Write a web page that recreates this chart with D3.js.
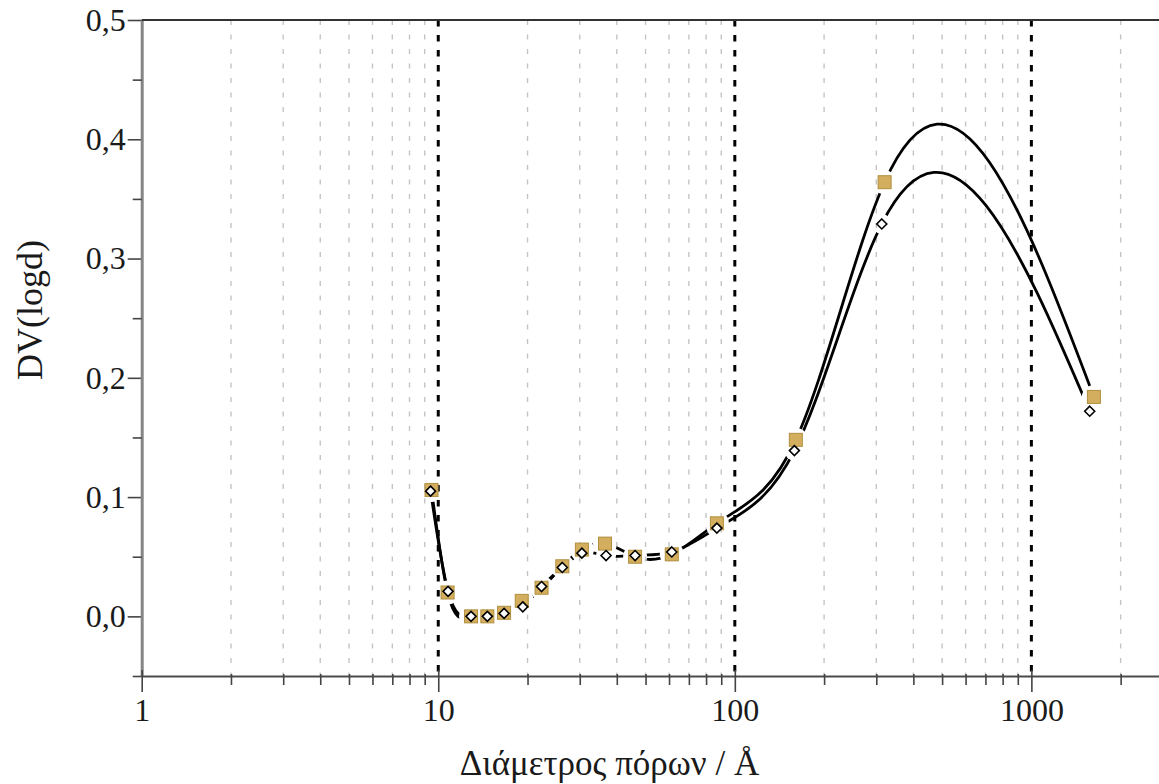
<!DOCTYPE html>
<html>
<head>
<meta charset="utf-8">
<script src="https://cdn.jsdelivr.net/npm/d3@7"></script>
<style>
  html, body { margin: 0; padding: 0; background: #fff; }
  svg { display: block; }
  svg text { font-family: "Liberation Serif", "Tinos", "Times New Roman", "DejaVu Serif", serif !important; fill: #1a1a1a; }
</style>
</head>
<body>
<svg id="chart" width="1159" height="784"></svg>
<script>
// Pore diameter (Å) and DV(logd) for the two samples
const squareDiameter  = [9.49, 10.75, 12.9, 14.64, 16.67, 19.12, 22.3, 26.2, 30.5, 36.5, 46.1, 61.3, 87.0, 160.6, 320, 1625];
const squareDV        = [0.106, 0.020, 0.000, 0.000, 0.003, 0.013, 0.024, 0.042, 0.056, 0.061, 0.050, 0.052, 0.078, 0.148, 0.364, 0.184];
const diamondDiameter = [9.42, 10.79, 12.9, 14.64, 16.67, 19.28, 22.3, 26.2, 30.5, 36.8, 46.1, 61.3, 87.0, 158.8, 313, 1573];
const diamondDV       = [0.105, 0.021, 0.000, 0.000, 0.0025, 0.008, 0.025, 0.041, 0.053, 0.051, 0.051, 0.054, 0.074, 0.139, 0.329, 0.172];

const xMajorTicks = [1, 10, 100, 1000];
const xMinorTicks = [2,3,4,5,6,7,8,9, 20,30,40,50,60,70,80,90, 200,300,400,500,600,700,800,900, 2000];
const yMajorTicks = [0, 0.1, 0.2, 0.3, 0.4, 0.5];
const yMinorTicks = [-0.05, 0.05, 0.15, 0.25, 0.35, 0.45];

const xTitle = "Διάμετρος πόρων / Å";
const yTitle = "DV(logd)";

const W = 1159, H = 784;
const plotLeft = 141.7, plotRight = 1159.3, plotTop = 20, plotBottom = 676;
const serif = "'Liberation Serif', Tinos, 'Times New Roman', 'DejaVu Serif', serif";

const svg = d3.select("#chart");
const x = d3.scaleLog().domain([1, 2700]).range([plotLeft, plotRight]);
const y = d3.scaleLinear().domain([-0.05, 0.5]).range([plotBottom, plotTop]);

const locale = d3.formatLocale({ decimal: ",", thousands: ".", grouping: [3], currency: ["", ""] });
const fmtY = locale.format(".1f");

// Natural cubic spline treated as a function of x (knots at the data points)
function CurveSplineX(context) { this._context = context; }
CurveSplineX.prototype = {
  areaStart() { this._line = 0; },
  areaEnd() { this._line = NaN; },
  lineStart() { this._x = []; this._y = []; },
  point(px, py) { this._x.push(+px); this._y.push(+py); },
  lineEnd() {
    const X = this._x, Y = this._y, n = X.length, ctx = this._context;
    if (!n) return;
    ctx.moveTo(X[0], Y[0]);
    if (n < 3) { if (n === 2) ctx.lineTo(X[1], Y[1]); return; }
    const h = [], s = [];
    for (let i = 0; i < n - 1; i++) { h[i] = X[i+1] - X[i]; s[i] = (Y[i+1] - Y[i]) / h[i]; }
    const M = new Array(n).fill(0);
    const m = n - 2, a = [], b = [], c = [], r = [];
    for (let k = 0; k < m; k++) {
      const i = k + 1;
      a[k] = h[i-1]; b[k] = 2 * (h[i-1] + h[i]); c[k] = h[i]; r[k] = 6 * (s[i] - s[i-1]);
    }
    for (let k = 1; k < m; k++) {
      const w = a[k] / b[k-1];
      b[k] -= w * c[k-1]; r[k] -= w * r[k-1];
    }
    M[m] = r[m-1] / b[m-1];
    for (let k = m - 2; k >= 0; k--) M[k+1] = (r[k] - c[k] * M[k+2]) / b[k];
    for (let i = 0; i < n - 1; i++) {
      const hi = h[i];
      const d0 = s[i] - hi * (2 * M[i] + M[i+1]) / 6;
      const d1 = s[i] + hi * (M[i] + 2 * M[i+1]) / 6;
      ctx.bezierCurveTo(X[i] + hi/3, Y[i] + d0*hi/3, X[i+1] - hi/3, Y[i+1] - d1*hi/3, X[i+1], Y[i+1]);
    }
  }
};
const curveSplineX = ctx => new CurveSplineX(ctx);

const squares = squareDiameter.map((d, i) => ({ d, v: squareDV[i] }));
const diamonds = diamondDiameter.map((d, i) => ({ d, v: diamondDV[i] }));

// Vertical grid: light dotted at minor decades, dark dashed at 10, 100, 1000
const grid = svg.append("g");
grid.selectAll("line.minor").data(xMinorTicks).join("line")
  .attr("x1", d => x(d)).attr("x2", d => x(d))
  .attr("y1", plotTop).attr("y2", plotBottom)
  .attr("stroke", "#c4c4c4").attr("stroke-width", 1.4).attr("stroke-dasharray", "5,9.5");
grid.selectAll("line.major").data(xMajorTicks.filter(d => d > 1)).join("line")
  .attr("x1", d => x(d)).attr("x2", d => x(d))
  .attr("y1", plotTop).attr("y2", plotBottom)
  .attr("stroke", "#000").attr("stroke-width", 3).attr("stroke-dasharray", "6.5,8.5");

// Mask that opens gaps in the curves around each marker
const defs = svg.append("defs");
const mask = defs.append("mask").attr("id", "gapMask").attr("maskUnits", "userSpaceOnUse")
  .attr("x", 0).attr("y", 0).attr("width", W).attr("height", H);
mask.append("rect").attr("width", W).attr("height", H).attr("fill", "#fff");
mask.selectAll("circle.sq").data(squares).join("circle")
  .attr("cx", p => x(p.d)).attr("cy", p => y(p.v)).attr("r", 12).attr("fill", "#000");
mask.selectAll("circle.di").data(diamonds).join("circle")
  .attr("cx", p => x(p.d)).attr("cy", p => y(p.v)).attr("r", 10).attr("fill", "#000");

const line = d3.line().x(p => x(p.d)).y(p => y(p.v)).curve(curveSplineX);
const curves = svg.append("g").attr("mask", "url(#gapMask)");
curves.append("path").datum(squares).attr("d", line)
  .attr("fill", "none").attr("stroke", "#000").attr("stroke-width", 2.8);
curves.append("path").datum(diamonds).attr("d", line)
  .attr("fill", "none").attr("stroke", "#000").attr("stroke-width", 2.8);

// Axes
const yAxisG = svg.append("g").attr("transform", `translate(${plotLeft},0)`)
  .call(d3.axisLeft(y).tickValues(yMajorTicks).tickFormat(fmtY).tickSize(14).tickSizeOuter(0).tickPadding(2));
yAxisG.attr("font-family", serif);
yAxisG.select(".domain").attr("stroke", "#858585").attr("stroke-width", 3);
yAxisG.selectAll(".tick line").attr("stroke", "#444").attr("stroke-width", 1.6);
yAxisG.selectAll(".tick text").attr("font-size", 32).attr("fill", "#1a1a1a");
yAxisG.select(".domain").raise();

const yMinorG = svg.append("g").attr("transform", `translate(${plotLeft},0)`)
  .call(d3.axisLeft(y).tickValues(yMinorTicks).tickFormat("").tickSize(9).tickSizeOuter(0));
yMinorG.select(".domain").remove();
yMinorG.selectAll(".tick line").attr("stroke", "#444").attr("stroke-width", 1.6);

// Top frame line
svg.append("line").attr("x1", plotLeft).attr("x2", plotRight).attr("y1", plotTop).attr("y2", plotTop)
  .attr("stroke", "#333").attr("stroke-width", 2.2);

const xAxisG = svg.append("g").attr("transform", `translate(0,${plotBottom})`)
  .call(d3.axisBottom(x).tickValues(xMajorTicks).tickFormat(d3.format("d")).tickSize(16).tickSizeOuter(0).tickPadding(6));
xAxisG.attr("font-family", serif);
xAxisG.select(".domain").attr("stroke", "#4a4a4a").attr("stroke-width", 2.2);
xAxisG.selectAll(".tick line").attr("stroke", "#444").attr("stroke-width", 1.6).attr("y1", -6);
xAxisG.selectAll(".tick text").attr("font-size", 32).attr("fill", "#1a1a1a");

const xMinorG = svg.append("g").attr("transform", `translate(0,${plotBottom})`)
  .call(d3.axisBottom(x).tickValues(xMinorTicks).tickFormat("").tickSize(9).tickSizeOuter(0));
xMinorG.select(".domain").remove();
xMinorG.selectAll(".tick line").attr("stroke", "#444").attr("stroke-width", 1.6).attr("y1", -2);

// Markers
svg.append("g").selectAll("rect").data(squares).join("rect")
  .attr("x", p => x(p.d) - 6.5).attr("y", p => y(p.v) - 6.5)
  .attr("width", 13).attr("height", 13)
  .attr("fill", "#d3ae5e").attr("stroke", "#b08f3e").attr("stroke-width", 1);
svg.append("g").selectAll("path").data(diamonds).join("path")
  .attr("d", "M0,-5L5,0L0,5L-5,0Z")
  .attr("transform", p => `translate(${x(p.d)},${y(p.v)})`)
  .attr("fill", "#fff").attr("stroke", "#000").attr("stroke-width", 1.6);

// Titles
svg.append("text").attr("x", 609.5).attr("y", 775).attr("text-anchor", "middle")
  .attr("font-family", serif).attr("font-size", 35).text(xTitle);
svg.append("text").attr("transform", "translate(42,310) rotate(-90)").attr("text-anchor", "middle")
  .attr("font-family", serif).attr("font-size", 36).text(yTitle);
</script>
</body>
</html>
